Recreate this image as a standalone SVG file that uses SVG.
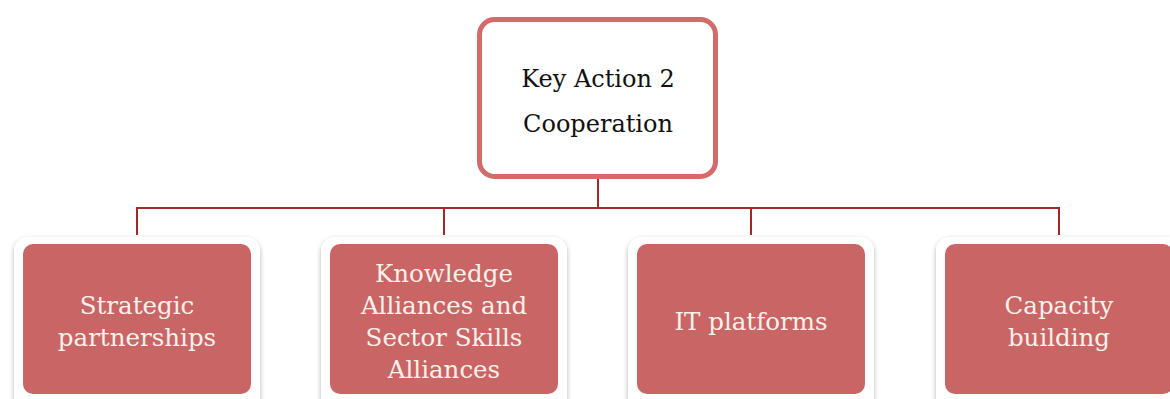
<svg xmlns="http://www.w3.org/2000/svg" width="1170" height="399" viewBox="0 0 1170 399">
<defs>
<filter id="sh" x="-10%" y="-10%" width="120%" height="130%">
<feGaussianBlur in="SourceAlpha" stdDeviation="2.5"/>
<feOffset dx="0" dy="2" result="b"/>
<feComponentTransfer><feFuncA type="linear" slope="0.3"/></feComponentTransfer>
<feMerge><feMergeNode/><feMergeNode in="SourceGraphic"/></feMerge>
</filter>
<style>
.lbl{font-family:"DejaVu Serif","Liberation Serif",serif;font-size:24.5px;fill:#fbf1ea;text-anchor:middle}
.top{font-family:"DejaVu Serif","Liberation Serif",serif;font-size:24px;fill:#111;text-anchor:middle}
.frame{fill:#ffffff;filter:url(#sh)}
.card{fill:#c96565}
.conn{fill:none;stroke:#a3282a;stroke-width:2}
</style>
</defs>
<rect width="1170" height="399" fill="#ffffff"/>
<g id="connectors">
<path class="conn" d="M598 178V208M137 235V208H1059V235M444 208V235M751 208V235"/>
</g>
<g id="root">
<rect x="479.5" y="19.5" width="236" height="157" rx="15" fill="#ffffff" stroke="#d36b6b" stroke-width="5"/>
<text class="top" x="598" y="87">Key Action 2</text>
<text class="top" x="598" y="132">Cooperation</text>
</g>
<g id="n1">
<rect class="frame" x="14" y="237" width="246" height="180" rx="14"/>
<rect class="card" x="23" y="244" width="228" height="150" rx="10"/>
<text class="lbl" x="137" y="314">Strategic</text>
<text class="lbl" x="137" y="346">partnerships</text>
</g>
<g id="n2">
<rect class="frame" x="321" y="237" width="246" height="180" rx="14"/>
<rect class="card" x="330" y="244" width="228" height="150" rx="10"/>
<text class="lbl" x="444" y="282">Knowledge</text>
<text class="lbl" x="444" y="314">Alliances and</text>
<text class="lbl" x="444" y="346">Sector Skills</text>
<text class="lbl" x="444" y="378">Alliances</text>
</g>
<g id="n3">
<rect class="frame" x="628" y="237" width="246" height="180" rx="14"/>
<rect class="card" x="637" y="244" width="228" height="150" rx="10"/>
<text class="lbl" x="751" y="330">IT platforms</text>
</g>
<g id="n4">
<rect class="frame" x="936" y="237" width="246" height="180" rx="14"/>
<rect class="card" x="945" y="244" width="228" height="150" rx="10"/>
<text class="lbl" x="1059" y="314">Capacity</text>
<text class="lbl" x="1059" y="346">building</text>
</g>
</svg>
